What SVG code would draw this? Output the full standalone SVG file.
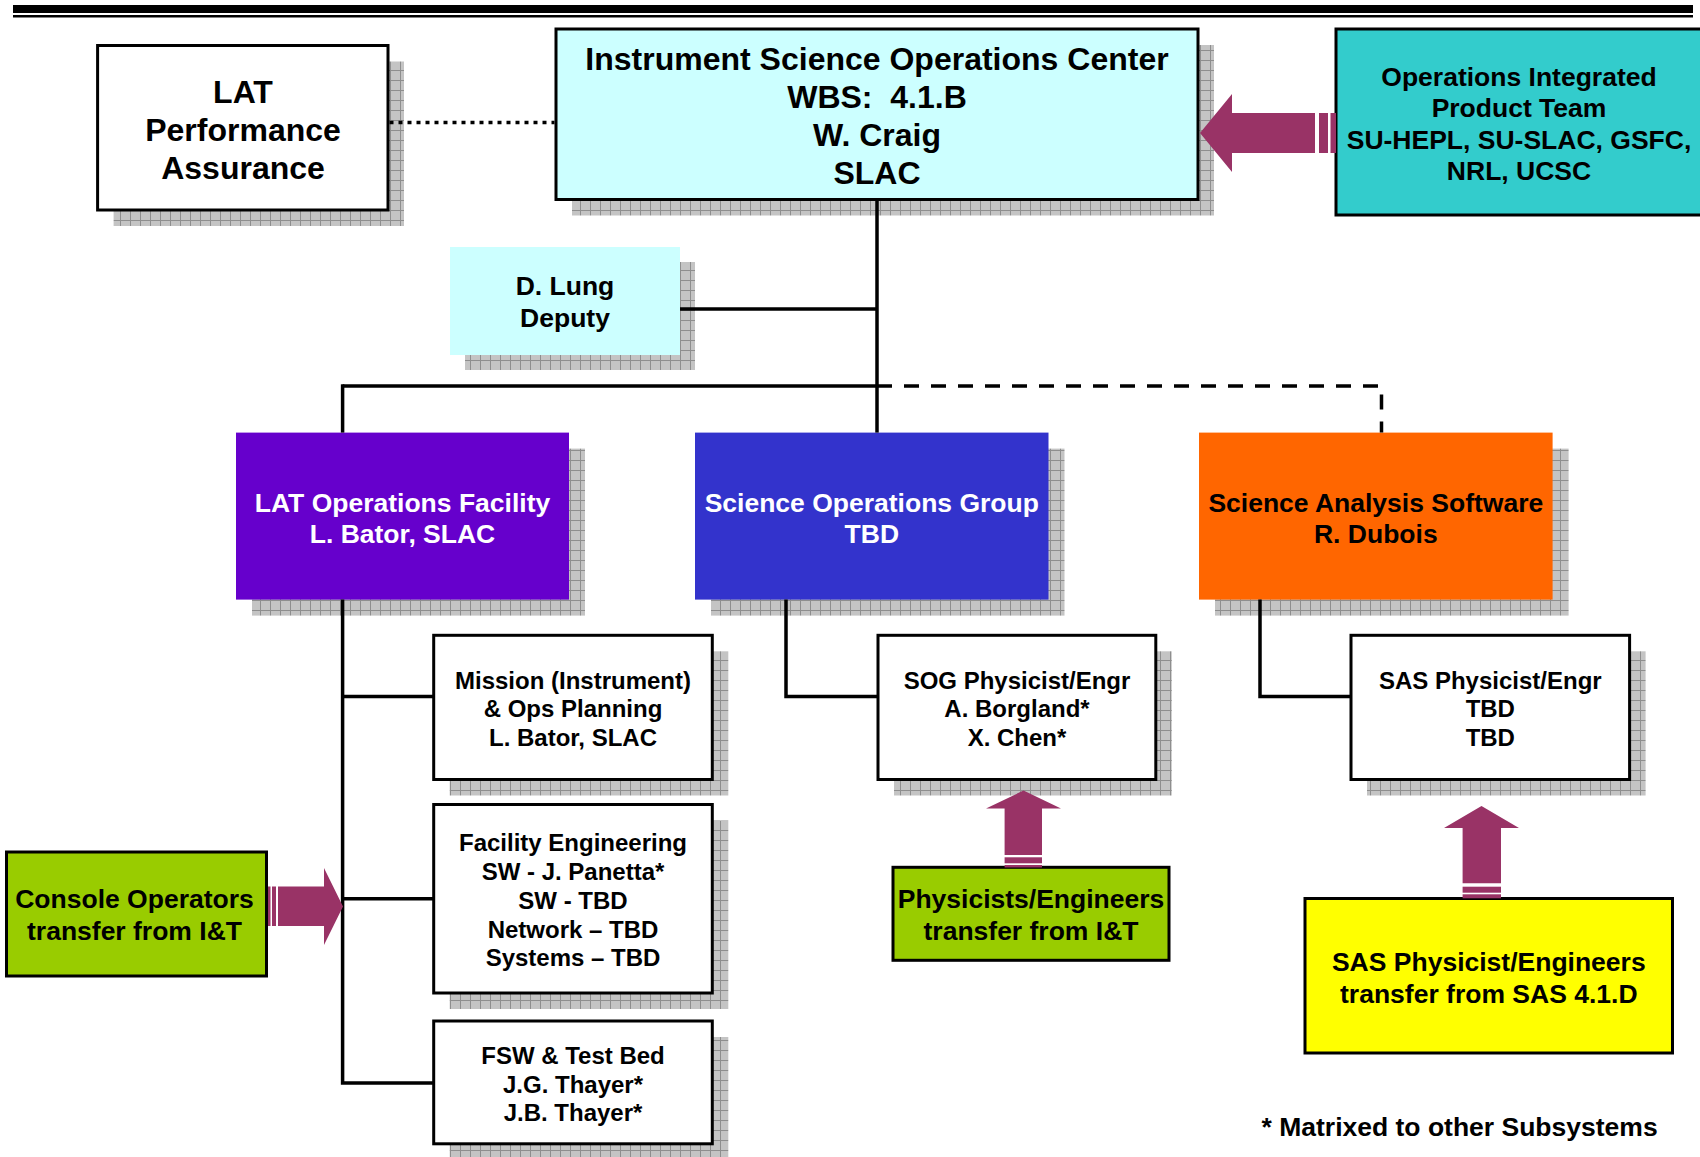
<svg xmlns="http://www.w3.org/2000/svg" width="1700" height="1157" viewBox="0 0 1700 1157">
<defs>
<pattern id="sh" patternUnits="userSpaceOnUse" width="10" height="10">
<rect width="10" height="10" fill="#c4c4c4"/>
<path d="M0 0.5H10M0.5 0V10" stroke="#8e8e8e" stroke-width="1"/>
</pattern>
<style>
.t{font-family:"Liberation Sans",Arial,Helvetica,sans-serif;font-weight:bold;text-anchor:middle;fill:#000}
.w{fill:#fff}
.f32{font-size:32px}
.f26{font-size:26.5px}
.f24{font-size:24px}
.bx{stroke:#000;stroke-width:3}
.shd{fill:url(#sh)}
.ln{fill:none;stroke:#000;stroke-width:3.5}
.ar{fill:#993366}
</style>
</defs>
<rect width="1700" height="1157" fill="#fff"/>
<g id="header">
<rect x="13" y="5" width="1680" height="8" fill="#000"/>
<rect x="13" y="15" width="1680" height="2.5" fill="#000"/>
</g>
<g id="shadows">
<rect class="shd" x="113.6" y="61.5" width="290.4" height="164.5"/>
<rect class="shd" x="572" y="45" width="642" height="170.5"/>
<rect class="shd" x="465" y="262" width="230" height="108"/>
<rect class="shd" x="252" y="448.6" width="333" height="167"/>
<rect class="shd" x="711" y="448.6" width="353.5" height="167"/>
<rect class="shd" x="1215" y="448.6" width="353.6" height="167"/>
<rect class="shd" x="449.7" y="651.3" width="278.6" height="144.2"/>
<rect class="shd" x="449.7" y="820.5" width="278.6" height="188.5"/>
<rect class="shd" x="449.7" y="1037" width="278.6" height="122.8"/>
<rect class="shd" x="894" y="651.3" width="277.8" height="144.2"/>
<rect class="shd" x="1367" y="651.3" width="278.6" height="144.2"/>
</g>
<g id="n-lat-pa">
<rect class="bx" x="97.6" y="45.5" width="290.4" height="164.5" fill="#fff"/>
<text class="t f32" x="243" y="102.5">LAT</text>
<text class="t f32" x="243" y="140.5">Performance</text>
<text class="t f32" x="243" y="178.5">Assurance</text>
</g>
<g id="n-isoc">
<rect class="bx" x="556" y="29" width="642" height="170.5" fill="#ccffff"/>
<text class="t f32" x="877" y="69.5">Instrument Science Operations Center</text>
<text class="t f32" x="877" y="107.5">WBS:&#160; 4.1.B</text>
<text class="t f32" x="877" y="145.5">W. Craig</text>
<text class="t f32" x="877" y="183.5">SLAC</text>
</g>
<g id="n-ops-ipt">
<rect class="bx" x="1336" y="29" width="368" height="186" fill="#33cccc"/>
<text class="t f26" x="1519" y="85.5">Operations Integrated</text>
<text class="t f26" x="1519" y="117">Product Team</text>
<text class="t f26" x="1519" y="148.5">SU-HEPL, SU-SLAC, GSFC,</text>
<text class="t f26" x="1519" y="180">NRL, UCSC</text>
</g>
<g id="n-deputy">
<rect x="450" y="247" width="230" height="108" fill="#ccffff"/>
<text class="t f26" x="565" y="295">D. Lung</text>
<text class="t f26" x="565" y="327">Deputy</text>
</g>
<g id="n-lof">
<rect x="236" y="432.6" width="333" height="167" fill="#6600cc"/>
<text class="t w f26" x="402.5" y="511.5">LAT Operations Facility</text>
<text class="t w f26" x="402.5" y="543">L. Bator, SLAC</text>
</g>
<g id="n-sog">
<rect x="695" y="432.6" width="353.5" height="167" fill="#3333cc"/>
<text class="t w f26" x="871.8" y="511.5">Science Operations Group</text>
<text class="t w f26" x="871.8" y="543">TBD</text>
</g>
<g id="n-sas">
<rect x="1199" y="432.6" width="353.6" height="167" fill="#ff6600"/>
<text class="t f26" x="1375.8" y="511.5">Science Analysis Software</text>
<text class="t f26" x="1375.8" y="543">R. Dubois</text>
</g>
<g id="n-mission">
<rect class="bx" x="433.7" y="635.3" width="278.6" height="144.2" fill="#fff"/>
<text class="t f24" x="573" y="688.5">Mission (Instrument)</text>
<text class="t f24" x="573" y="717">&amp; Ops Planning</text>
<text class="t f24" x="573" y="745.5">L. Bator, SLAC</text>
</g>
<g id="n-facility">
<rect class="bx" x="433.7" y="804.5" width="278.6" height="188.5" fill="#fff"/>
<text class="t f24" x="573" y="851">Facility Engineering</text>
<text class="t f24" x="573" y="880">SW - J. Panetta*</text>
<text class="t f24" x="573" y="909">SW - TBD</text>
<text class="t f24" x="573" y="937.5">Network – TBD</text>
<text class="t f24" x="573" y="966">Systems – TBD</text>
</g>
<g id="n-fsw">
<rect class="bx" x="433.7" y="1021" width="278.6" height="122.8" fill="#fff"/>
<text class="t f24" x="573" y="1063.5">FSW &amp; Test Bed</text>
<text class="t f24" x="573" y="1092.5">J.G. Thayer*</text>
<text class="t f24" x="573" y="1121">J.B. Thayer*</text>
</g>
<g id="n-sog-phys">
<rect class="bx" x="878" y="635.3" width="277.8" height="144.2" fill="#fff"/>
<text class="t f24" x="1017" y="688.5">SOG Physicist/Engr</text>
<text class="t f24" x="1017" y="717">A. Borgland*</text>
<text class="t f24" x="1017" y="745.5">X. Chen*</text>
</g>
<g id="n-sas-phys">
<rect class="bx" x="1351" y="635.3" width="278.6" height="144.2" fill="#fff"/>
<text class="t f24" x="1490.3" y="688.5">SAS Physicist/Engr</text>
<text class="t f24" x="1490.3" y="717">TBD</text>
<text class="t f24" x="1490.3" y="745.5">TBD</text>
</g>
<g id="n-console">
<rect class="bx" x="6.5" y="852" width="260" height="124" fill="#99cc00"/>
<text class="t f26" x="134.5" y="908">Console Operators</text>
<text class="t f26" x="134.5" y="939.5">transfer from I&amp;T</text>
</g>
<g id="n-phys-eng">
<rect class="bx" x="893" y="867.3" width="276" height="93" fill="#99cc00"/>
<text class="t f26" x="1031" y="908">Physicists/Engineers</text>
<text class="t f26" x="1031" y="939.5">transfer from I&amp;T</text>
</g>
<g id="n-sas-transfer">
<rect class="bx" x="1305" y="898.5" width="367.5" height="154.5" fill="#ffff00"/>
<text class="t f26" x="1488.8" y="971">SAS Physicist/Engineers</text>
<text class="t f26" x="1488.8" y="1002.5">transfer from SAS 4.1.D</text>
</g>
<g id="footnote">
<text class="t f26" x="1261.5" y="1135.5" style="text-anchor:start">* Matrixed to other Subsystems</text>
</g>
<g id="connectors">
<path class="ln" d="M877 199.5V432.6"/>
<path class="ln" d="M680 309H877"/>
<path class="ln" d="M342.6 386H877"/>
<path class="ln" d="M877 386H1381.5V432.6" stroke-dasharray="15 12"/>
<path class="ln" d="M342.6 384.3V432.6"/>
<path class="ln" d="M342.6 599.6V1083H433.7"/>
<path class="ln" d="M342.6 696.5H433.7"/>
<path class="ln" d="M342.6 898.8H433.7"/>
<path class="ln" d="M786 599.6V696.5H878"/>
<path class="ln" d="M1260 599.6V696.5H1351"/>
<path class="ln" d="M389.5 122.5H554.5" stroke-dasharray="4 5"/>
<g id="arrow-ops">
<path class="ar" d="M1200 133L1232 94V113H1315V153H1232V172Z"/>
<rect class="ar" x="1319" y="113" width="9" height="40"/>
<rect class="ar" x="1330.5" y="113" width="5.5" height="40"/>
</g>
<g id="arrow-console">
<path class="ar" d="M343 906.5L324 868V886.5H278V926H324V945Z"/>
<rect class="ar" x="268" y="886.5" width="2.5" height="39.5"/>
<rect class="ar" x="272" y="886.5" width="4" height="39.5"/>
</g>
<g id="arrow-phys">
<path class="ar" d="M1023.5 790.5L1061 808.5H1042V855H1004.6V808.5H986Z"/>
<rect class="ar" x="1004.6" y="857.3" width="37.4" height="6"/>
<rect class="ar" x="1004.6" y="865" width="37.4" height="2.5"/>
</g>
<g id="arrow-sas">
<path class="ar" d="M1481.5 806L1519 828H1501V883.3H1462.6V828H1444Z"/>
<rect class="ar" x="1462.6" y="886.7" width="38.4" height="6"/>
<rect class="ar" x="1462.6" y="894.3" width="38.4" height="4"/>
</g>
</g>
</svg>
